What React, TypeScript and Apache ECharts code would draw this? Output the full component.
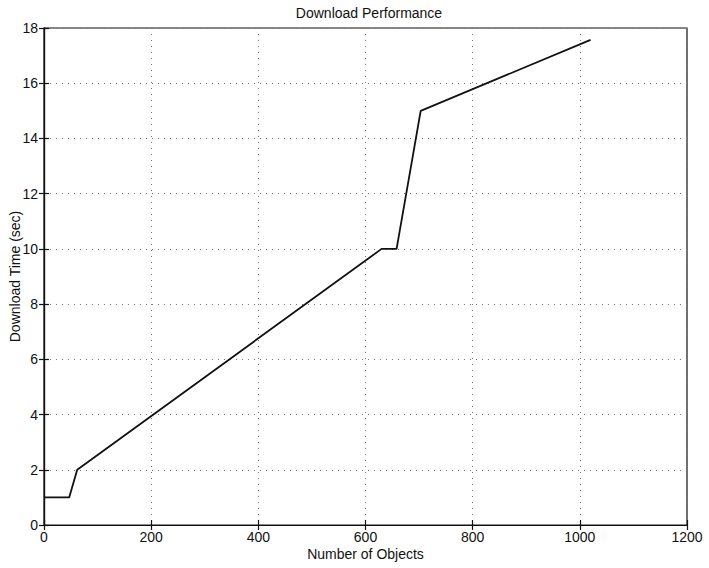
import React, { useEffect, useRef } from "react";
import * as echarts from "echarts";

// Number of objects vs. download time (seconds)
const objectCounts = [0, 47, 62, 630, 658, 703, 1020];
const downloadTimes = [1, 1, 2, 10, 10, 15, 17.57];

const xTicks = { min: 0, max: 1200, interval: 200 };
const yTicks = { min: 0, max: 18, interval: 2 };

const FONT = "Liberation Sans, Arial, Helvetica, sans-serif";
const INK = "#111";

export default function App() {
  const ref = useRef<HTMLDivElement>(null);

  useEffect(() => {
    if (!ref.current) return;
    const chart = echarts.init(ref.current, null, { renderer: "svg" });

    const tickStyle = { show: true, inside: true, length: 5, lineStyle: { color: INK, width: 1.2 } };
    const gridStyle = { show: true, lineStyle: { color: "#777", type: [1, 5] as any, width: 1 } };
    const labelStyle = { color: INK, fontFamily: FONT, fontSize: 14, formatter: (v: number) => String(v) };

    chart.setOption({
      animation: false,
      backgroundColor: "#fff",
      title: {
        text: "Download Performance",
        left: 364,
        textAlign: "center",
        top: 1,
        textStyle: { color: INK, fontFamily: FONT, fontSize: 14, fontWeight: "normal" },
      },
      grid: {
        left: 44,
        right: 22,
        top: 28,
        bottom: 43,
        outerBoundsMode: "none",
        containLabel: false,
        show: true,
        borderColor: INK,
        borderWidth: 1.2,
        backgroundColor: "transparent",
      },
      xAxis: [
        {
          type: "value",
          ...xTicks,
          name: "Number of Objects",
          nameLocation: "middle",
          nameGap: 22,
          nameMoveOverlap: false,
          nameTextStyle: { color: INK, fontFamily: FONT, fontSize: 14 },
          axisLine: { show: true, lineStyle: { color: INK, width: 1.2 } },
          axisTick: tickStyle,
          axisLabel: { ...labelStyle, margin: 5 },
          splitLine: gridStyle,
        },
        {
          type: "value",
          ...xTicks,
          position: "top",
          axisLine: { show: true, lineStyle: { color: INK, width: 1.2 } },
          axisTick: tickStyle,
          axisLabel: { show: false },
          splitLine: { show: false },
        },
      ],
      yAxis: [
        {
          type: "value",
          ...yTicks,
          name: "Download Time (sec)",
          nameLocation: "middle",
          nameGap: 22,
          nameMoveOverlap: false,
          nameTextStyle: { color: INK, fontFamily: FONT, fontSize: 14 },
          axisLine: { show: true, lineStyle: { color: INK, width: 1.2 } },
          axisTick: tickStyle,
          axisLabel: { ...labelStyle, margin: 6 },
          splitLine: gridStyle,
        },
        {
          type: "value",
          ...yTicks,
          position: "right",
          axisLine: { show: true, lineStyle: { color: INK, width: 1.2 } },
          axisTick: tickStyle,
          axisLabel: { show: false },
          splitLine: { show: false },
        },
      ],
      series: [
        {
          type: "line",
          data: objectCounts.map((x, i) => [x, downloadTimes[i]]),
          showSymbol: false,
          lineStyle: { color: INK, width: 1.8 },
        },
      ],
    });

    return () => chart.dispose();
  }, []);

  return <div ref={ref} style={{ width: 709, height: 568, position: "absolute", left: 0, top: 0 }} />;
}
